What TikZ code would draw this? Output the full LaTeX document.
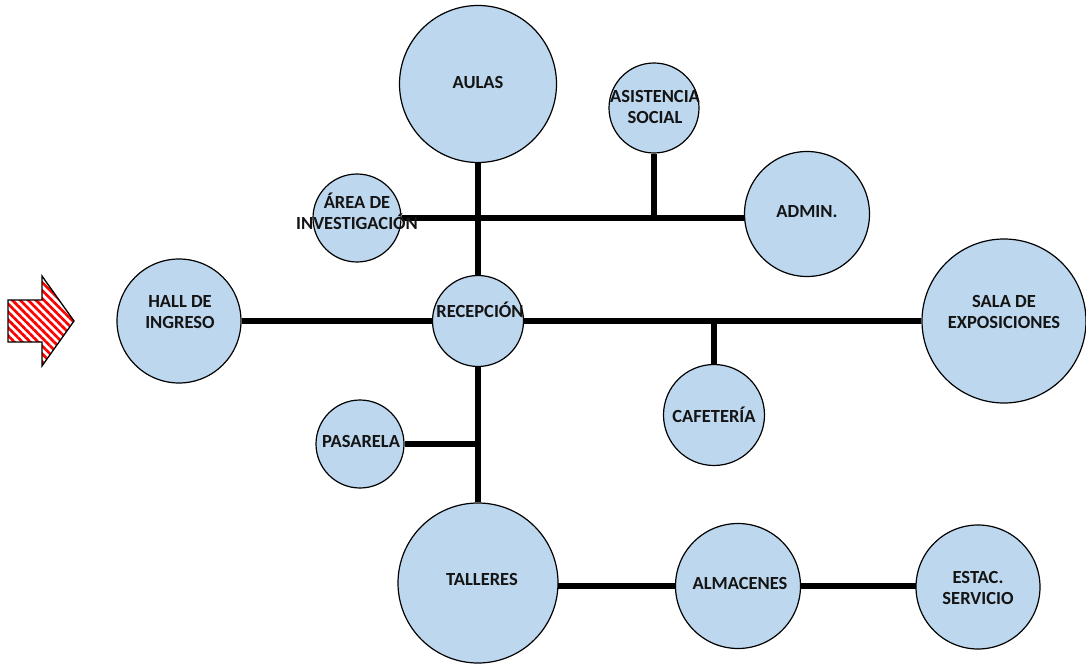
\documentclass[tikz,border=0pt]{standalone}
\usepackage{fontspec}
\setmainfont{Carlito}
\usetikzlibrary{backgrounds,patterns.meta}
\definecolor{circfill}{RGB}{189,215,238}
\tikzset{
  circ/.style={circle,draw=black,line width=1.2pt,fill=circfill,inner sep=0pt,minimum size=#1},
  lbl/.style={align=center,inner sep=0pt,font=\bfseries\fontsize{18.5}{21}\selectfont,text=black!92},
  conn/.style={line width=6.5pt,draw=black},
}
\begin{document}
\begin{tikzpicture}[x=1pt,y=-1pt]
\useasboundingbox (0,0) rectangle (1086,668);
% circles
\node[circ=157pt] (aulas) at (478,84) {};
\node[circ=90pt]  (asis)  at (654,108) {};
\node[circ=88pt]  (area)  at (357,218) {};
\node[circ=125pt] (admin) at (807,214) {};
\node[circ=124pt] (hall)  at (179,321) {};
\node[circ=91pt]  (recep) at (478,321) {};
\node[circ=164pt] (sala)  at (1004,321) {};
\node[circ=101pt] (cafe)  at (714,415) {};
\node[circ=88pt]  (pasa)  at (360,444) {};
\node[circ=160pt] (tall)  at (478,583) {};
\node[circ=125pt] (alma)  at (738,586) {};
\node[circ=124pt] (estac) at (978,587) {};
% junction points
\coordinate (jA) at (asis.south |- area.center);
\coordinate (jC) at (cafe.north |- recep.center);
\coordinate (jP) at (recep.south |- pasa.center);
\coordinate (jAd) at (admin.center |- area.center);
\coordinate (jT) at (tall.center |- alma.center);
\coordinate (jE) at (estac.center |- alma.center);
% connectors (behind the circles)
\begin{scope}[on background layer]
\fill[white] (0,0) rectangle (1086,668);
\draw[conn] (aulas) -- (recep);
\draw[conn] (area) -- (jAd);
\draw[conn] (asis) -- (jA);
\draw[conn] (hall) -- (sala);
\draw[conn] (jC) -- (cafe);
\draw[conn] (recep) -- (tall);
\draw[conn] (pasa) -- (jP);
\draw[conn] (jT) -- (alma);
\draw[conn] (alma) -- (jE);
\end{scope}
% labels
\node[lbl] (aulas-t) at (478,83) {AULAS};
\node[lbl] (asis-t)  at (655,107) {ASISTENCIA\\SOCIAL};
\node[lbl] (area-t)  at (357,211) {ÁREA DE\\INVESTIGACIÓN};
\node[lbl] (admin-t) at (807,212) {ADMIN.};
\node[lbl] (hall-t)  at (180,312) {HALL DE\\INGRESO};
\node[lbl] (recep-t) at (480,310) {RECEPCIÓN};
\node[lbl] (sala-t)  at (1004,312) {SALA DE\\EXPOSICIONES};
\node[lbl] (cafe-t)  at (714,415) {CAFETERÍA};
\node[lbl] (pasa-t)  at (361,441) {PASARELA};
\node[lbl] (tall-t)  at (482,579) {TALLERES};
\node[lbl] (alma-t)  at (740,583) {ALMACENES};
\node[lbl] (estac-t) at (978,588) {ESTAC.\\SERVICIO};
% entrance arrow
\draw[line width=1.3pt,pattern={Lines[angle=-45,distance=5.6pt,line width=2.7pt]},pattern color=red]
  (8,300) -- (42,300) -- (42,276) -- (74,321) -- (42,366) -- (42,342) -- (8,342) -- cycle;
\end{tikzpicture}
\end{document}
